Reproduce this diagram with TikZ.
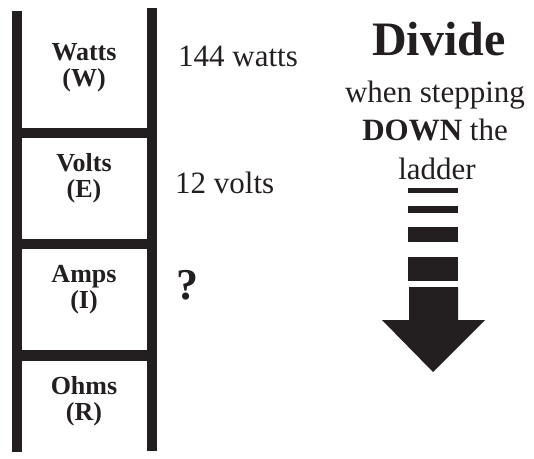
\documentclass[tikz,border=0pt]{standalone}
\usepackage{fontspec}
\setmainfont{Liberation Serif}
\definecolor{ink}{HTML}{231F20}
\begin{document}
\begin{tikzpicture}[x=1pt,y=-1pt,
  bar/.style={fill=ink,draw=none},
  lbl/.style={anchor=base,inner sep=0pt,text=ink,font=\fontsize{26}{26}\selectfont\bfseries,align=center},
  val/.style={anchor=base west,inner sep=0pt,text=ink,font=\fontsize{31}{36}\selectfont},
  side/.style={anchor=base,inner sep=0pt,text=ink,font=\fontsize{31}{36}\selectfont}]
\useasboundingbox (0,0) rectangle (534,458);
% ladder rails
\fill[bar] (12,11) rectangle (22,452);
\fill[bar] (147,8) rectangle (157,451);
% rungs
\fill[bar] (22,128) rectangle (147,138);
\fill[bar] (22,239) rectangle (147,249);
\fill[bar] (22,350) rectangle (147,361);
% ladder labels
\node[lbl] (w1) at (84,60) {Watts};
\node[lbl] (w2) at (84,86) {(W)};
\node[lbl] (e1) at (84,171) {Volts};
\node[lbl] (e2) at (84,197) {(E)};
\node[lbl] (i1) at (84,282) {Amps};
\node[lbl] (i2) at (84,308) {(I)};
\node[lbl] (r1) at (84,394) {Ohms};
\node[lbl] (r2) at (84,420) {(R)};
% values
\node[val] (watts) at (178,66) {144 watts};
\node[val] (volts) at (175,193) {12 volts};
\node[val,font=\fontsize{44}{44}\selectfont\bfseries] (q) at (176,299) {?};
% right text
\node[side,font=\fontsize{48}{50}\selectfont\bfseries] (div) at (439,55) {Divide};
\node[side] (t1) at (435,102) {when stepping};
\node[side] (t2) at (435,140) {\textbf{DOWN} the};
\node[side] (t3) at (437,179) {ladder};
% arrow
\fill[bar] (408,188) rectangle (458,193);
\fill[bar] (408,206) rectangle (458,213);
\fill[bar] (408,227) rectangle (458,242);
\fill[bar] (408,257) rectangle (458,281);
\fill[bar] (409,287) -- (458,287) -- (458,320) -- (485,320) -- (433,372) -- (382,320) -- (409,320) -- cycle;
\end{tikzpicture}
\end{document}
